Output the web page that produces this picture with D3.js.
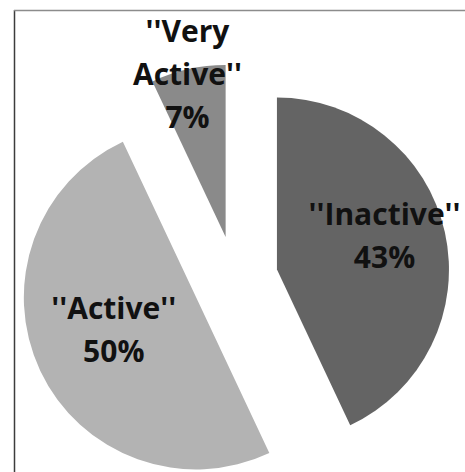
<!DOCTYPE html>
<html>
<head>
<meta charset="utf-8">
<script src="https://cdn.jsdelivr.net/npm/d3@7"></script>
<style>
  html, body { margin: 0; padding: 0; background: #fff; }
  svg { display: block; }
  .lbl { font-family: "Open Sans", Lato, sans-serif; font-weight: bold; fill: #111; }
</style>
</head>
<body>
<svg id="chart" width="465" height="472"></svg>
<script>
// Activity level shares
const categories = ["''Inactive''", "''Active''", "''Very Active''"];
const shares = [43, 50, 7];
const labelLines = [["''Inactive''", "43%"], ["''Active''", "50%"], ["''Very", "Active''", "7%"]];
const sliceColors = ["#646464", "#b3b3b3", "#8a8a8a"];

// Layout
const W = 465, H = 472;
const cx = 235, cy = 279;
const radius = 172;
const explode = 43;
const labelDist = [153, 136, 200];
const labelTurn = [0.007, -0.03, -0.02];
const lineGap = 43;
const fontSize = 30;

const svg = d3.select("#chart");

// frame edges
svg.append("line").attr("x1", 14.5).attr("x2", 14.5).attr("y1", 10).attr("y2", H)
  .attr("stroke", "#3c3c3c").attr("stroke-width", 1.5);
svg.append("line").attr("x1", 14).attr("x2", W).attr("y1", 10.5).attr("y2", 10.5)
  .attr("stroke", "#8c8c8c").attr("stroke-width", 1.5);

const pie = d3.pie().sort(null).value(d => d)(shares);
const arc = d3.arc().innerRadius(0).outerRadius(radius);

const g = svg.append("g").attr("transform", `translate(${cx},${cy})`);

pie.forEach((p, i) => {
  const mid = (p.startAngle + p.endAngle) / 2;
  const ux = Math.sin(mid), uy = -Math.cos(mid);
  g.append("path")
    .attr("d", arc(p))
    .attr("transform", `translate(${ux * explode},${uy * explode})`)
    .attr("fill", sliceColors[i]);
});

pie.forEach((p, i) => {
  const mid = (p.startAngle + p.endAngle) / 2 + labelTurn[i];
  const lx = Math.sin(mid) * labelDist[i], ly = -Math.cos(mid) * labelDist[i];
  const lines = labelLines[i];
  const t = g.append("text").attr("class", "lbl")
    .attr("text-anchor", "middle")
    .attr("font-size", fontSize);
  lines.forEach((s, k) => {
    t.append("tspan")
      .attr("x", lx)
      .attr("y", ly + (k - (lines.length - 1) / 2) * lineGap)
      .text(s);
  });
});
</script>
</body>
</html>
